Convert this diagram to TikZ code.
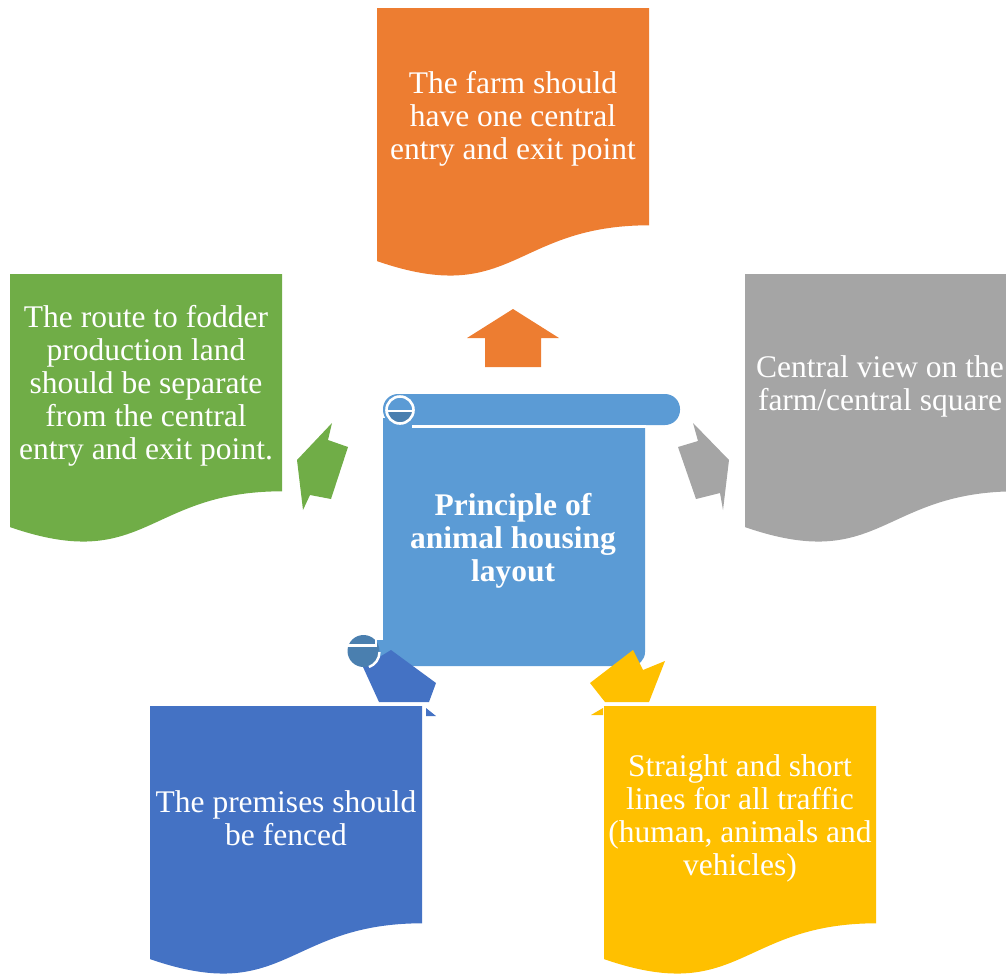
\documentclass[tikz,border=0pt]{standalone}
\usepackage{fontspec}
\setmainfont{Liberation Serif}
\definecolor{cOrange}{HTML}{ED7D31}
\definecolor{cGreen}{HTML}{70AD47}
\definecolor{cGray}{HTML}{A5A5A5}
\definecolor{cBlue}{HTML}{4472C4}
\definecolor{cYellow}{HTML}{FFC000}
\definecolor{cScroll}{HTML}{5B9BD5}
\definecolor{cCurl}{HTML}{4A7FAF}
\newcommand{\docshape}[3]{%
  \fill[#3] (#1,#2) -- ++(272,0) -- ++(0,217.3)
    .. controls (#1+136,#2+217.3) and (#1+136,#2+300.1) .. (#1,#2+253.1) -- cycle;}
\tikzset{
  doctext/.style={text=white, align=center, font=\fontsize{31.5}{33}\selectfont, inner sep=0pt},
  titletext/.style={text=white, align=center, font=\fontsize{31.5}{33}\selectfont\bfseries, inner sep=0pt},
}
\begin{document}
\begin{tikzpicture}[x=1pt,y=-1pt]
\useasboundingbox (0,0) rectangle (1006,975);
\clip (0,0) rectangle (1006,975);
% documents
\docshape{377}{8}{cOrange}
\docshape{10}{274}{cGreen}
\docshape{745}{274}{cGray}
\docshape{150}{706}{cBlue}
\docshape{604}{706}{cYellow}
\node[doctext] (tOrange) at (513,119) {The farm should\\have one central\\entry and exit point};
\node[doctext] (tGreen) at (146,386) {The route to fodder\\production land\\should be separate\\from the central\\entry and exit point.};
\node[doctext] (tGray) at (880,386) {Central view on the\\farm/central square};
\node[doctext] (tBlue) at (286,818) {The premises should\\be fenced};
\node[doctext] (tYellow) at (740,818) {Straight and short\\lines for all traffic\\(human, animals and\\vehicles)};
% scroll body
\fill[cScroll] (383,418) -- (645,418) -- (645,652) arc[start angle=0,end angle=90,radius=14]
  -- (363,666) -- (363,640) -- (383,640) -- cycle;
\fill[cScroll, rounded corners=15] (383,394) rectangle (680,425);
\draw[white, line width=2.2] (412,426.5) -- (646,426.5);
% arrows
\fill[cOrange] (513,309) -- (559,338) -- (541,338) -- (541,367) -- (485,367) -- (485,338) -- (467,338) -- cycle;
\fill[cGreen] (332,423) -- (297,460) -- (303,510) -- (310,495) -- (331,499) -- (348,447) -- (328,440) -- cycle;
\fill[cGray] (693,423) -- (729,460) -- (723,510) -- (720,493) -- (696,499) -- (678,447) -- (698,441) -- cycle;
\fill[cBlue] (391,650) -- (436,683) -- (429,702) -- (379,702) -- (363,667) -- cycle;
\fill[cBlue] (426,708) -- (426,716) -- (436,716) -- cycle;
\fill[cYellow] (633,650) -- (643,670) -- (665,661) -- (649,702) -- (605,702) -- (590,683) -- cycle;
\fill[cYellow] (603,708) -- (603,715) -- (591,715) -- cycle;
% top-left curl
\fill[cCurl] (388.5,411) arc[start angle=180,end angle=0,radius=12] -- cycle;
\draw[white, line width=2.6] (400,410) circle[radius=13.5];
\draw[white, line width=2] (388,410.5) -- (413,410.5);
% bottom-left curl
\fill[cCurl] (363.5,651) circle[radius=16];
\draw[white, line width=2.4] (348,645.5) -- (376,645.5) -- (376,636);
\draw[white, line width=2.4] (379.5,652) arc[start angle=0,end angle=70,radius=16];
\node[titletext] (title) at (513,541) {Principle of\\animal housing\\layout};
\end{tikzpicture}
\end{document}
